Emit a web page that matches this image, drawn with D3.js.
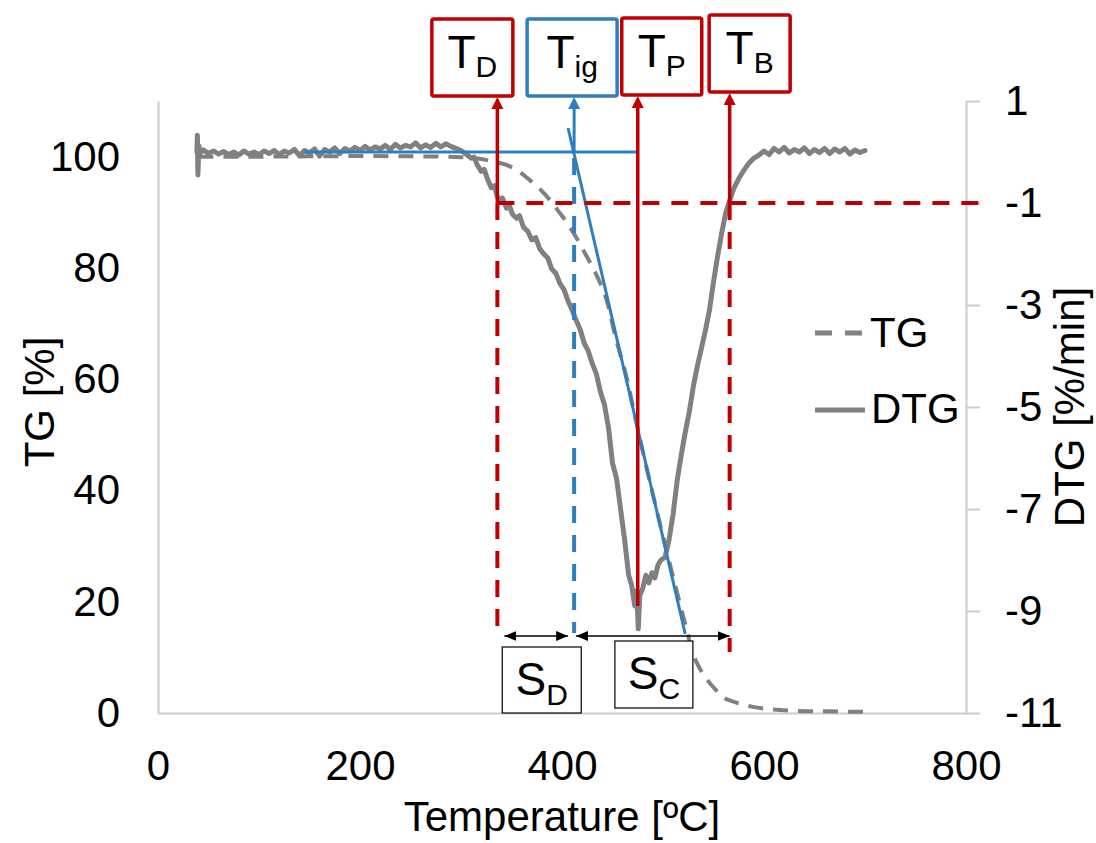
<!DOCTYPE html>
<html>
<head>
<meta charset="utf-8">
<script src="https://cdn.jsdelivr.net/npm/d3@7"></script>
<style>
body { margin: 0; background: #fff; }
svg text { font-family: "Liberation Sans", Arial, sans-serif; fill: #000; }
</style>
</head>
<body>
<div id="chart"></div>
<script>
// ---- data ----
var xTicks = [0, 200, 400, 600, 800];
var tgTicks = [0, 20, 40, 60, 80, 100];
var dtgTicks = [1, -1, -3, -5, -7, -9, -11];

// TG [%] vs temperature [C] (dashed, left axis)
var tgData = [[40,100],[100,100],[200,100.1],[280,100],[300,99.9],[315,99.7],[330,99.2],[345,98.5],
  [357,97.4],[368,95.8],[378,94.2],[388,92.2],[396,90.3],[405,88.1],[413,85.8],[421,83.2],[428,80.9],
  [435,78.4],[445,73.7],[452,68.3],[465,59.5],[475,51],[480,47],[497,34],[512,23],[522,16],[530,10.5],
  [537,7.8],[544,5.9],[552,4.2],[559,2.9],[567,2.2],[576,1.7],[589,1.1],[605,0.7],[630,0.4],[660,0.3],[700,0.2]];

// DTG [%/min] vs temperature [C] (solid, right axis)
var dtgData = [[38.5,0.0],[39,0.33],[39.5,-0.45],[40.5,0.12],[42,-0.02],[45,0.04],[50,-0.03],[55,0.02],
  [60,-0.04],[65,0.01],[70,-0.05],[75,0.0],[80,-0.06],[85,0.02],[90,-0.04],[95,0.0],[100,-0.05],[105,0.02],
  [110,-0.03],[115,0.03],[120,-0.05],[125,0.02],[130,-0.02],[135,0.05],[140,-0.07],[145,0.03],[150,-0.02],
  [155,0.06],[160,-0.08],[165,0.05],[170,0.0],[175,0.08],[180,-0.03],[185,0.07],[190,0.02],[195,0.09],
  [200,0.03],[205,0.11],[210,0.04],[215,0.1],[220,0.06],[225,0.13],[230,0.05],[235,0.15],[240,0.08],
  [245,0.13],[250,0.1],[255,0.18],[260,0.08],[265,0.14],[270,0.09],[275,0.17],[280,0.1],[285,0.16],
  [290,0.11],[295,0.07],[300,0.03],[305,-0.04],[310,-0.12],[313,-0.1],[316,-0.25],[320,-0.38],[323,-0.34],
  [326,-0.52],[330,-0.7],[333,-0.66],[336,-0.88],[339,-0.98],[341,-0.9],[345,-1.1],[348,-1.06],[351,-1.22],
  [355,-1.3],[358,-1.25],[362,-1.48],[366,-1.55],[370,-1.72],[374,-1.68],[378,-1.9],[382,-2.0],[386,-2.08],
  [390,-2.3],[394,-2.38],[398,-2.58],[402,-2.7],[406,-2.92],[410,-3.1],[414,-3.3],[418,-3.48],[422,-3.75],
  [426,-3.9],[430,-4.15],[434,-4.35],[438,-4.7],[442,-4.95],[446,-5.4],[450,-6.1],[454,-6.4],[458,-7.0],
  [462,-7.6],[466,-8.3],[469,-8.5],[472,-8.9],[474,-8.6],[475.5,-9.35],[477,-8.7],[480,-8.55],[483,-8.3],
  [486,-8.45],[489,-8.25],[492,-8.35],[495,-8.1],[498,-8.0],[502,-7.95],[506,-7.6],[510,-7.1],[514,-6.45],
  [518,-5.95],[522,-5.5],[526,-5.1],[530,-4.6],[534,-4.2],[538,-3.85],[542,-3.5],[546,-3.1],[550,-2.55],
  [554,-2.05],[558,-1.6],[562,-1.2],[566,-0.95],[570,-0.72],[575,-0.52],[580,-0.36],[585,-0.22],[590,-0.12],
  [595,-0.06],[600,0.02],[605,-0.05],[610,0.07],[615,0.0],[620,0.09],[625,-0.02],[630,0.05],[635,0.0],
  [640,0.08],[645,-0.03],[650,0.05],[655,-0.01],[660,0.07],[665,-0.03],[670,0.06],[675,0.0],[680,0.07],
  [685,-0.04],[690,0.04],[695,-0.01],[700,0.03]];

// characteristic temperatures
var markNames = ["D", "ig", "P", "B"];
var markTemps = [336, 412, 475, 566];
var thresholdDTG = -1;
var peakDTG = -8.9;
// ignition construction: baseline and tangent
var baseTemps = [145, 474];
var baseDTG = 0;
var tangentTemps = [406, 522];
var tangentDTG = [0.47, -9.45];

// ---- layout ----
var W = 1096, H = 843;
var red = "#C00000", blue = "#2E7EC1", gray = "#808080", axisGray = "#cccccc";

var svg = d3.select("#chart").append("svg")
  .attr("width", W).attr("height", H);

var x = d3.scaleLinear().domain([0, 800]).range([158, 966]);
var yL = d3.scaleLinear().domain([0, 110]).range([713, 101]);
var yR = d3.scaleLinear().domain([-11, 1]).range([713, 101]);

var defs = svg.append("defs");
defs.append("marker").attr("id", "headRed")
  .attr("viewBox", "0 0 10 10").attr("refX", 0).attr("refY", 5)
  .attr("markerUnits", "userSpaceOnUse").attr("markerWidth", 12).attr("markerHeight", 13)
  .attr("orient", "auto")
  .append("path").attr("d", "M0,0L10,5L0,10z").attr("fill", red);
defs.append("marker").attr("id", "headBlue")
  .attr("viewBox", "0 0 10 10").attr("refX", 0).attr("refY", 5)
  .attr("markerUnits", "userSpaceOnUse").attr("markerWidth", 12).attr("markerHeight", 12)
  .attr("orient", "auto")
  .append("path").attr("d", "M0,0L10,5L0,10z").attr("fill", blue);
defs.append("marker").attr("id", "headBlack")
  .attr("viewBox", "0 0 12 10").attr("refX", 12).attr("refY", 5)
  .attr("markerUnits", "userSpaceOnUse").attr("markerWidth", 12).attr("markerHeight", 10)
  .attr("orient", "auto-start-reverse")
  .append("path").attr("d", "M0,0L12,5L0,10z").attr("fill", "#000");

// ---- axes ----
var xAxis = d3.axisBottom(x).tickValues(xTicks).tickSize(0).tickPadding(37).tickSizeOuter(0);
var leftAxis = d3.axisLeft(yL).tickValues(tgTicks).tickSize(0).tickPadding(38).tickSizeOuter(0);
var rightAxis = d3.axisRight(yR).tickValues(dtgTicks).tickSize(14).tickPadding(25).tickSizeOuter(0);

function styleAxis(g) {
  g.select(".domain").attr("stroke", axisGray).attr("stroke-width", 2);
  g.selectAll(".tick line").attr("stroke", axisGray).attr("stroke-width", 2);
  g.selectAll(".tick text").attr("font-size", 42).attr("fill", "#000")
    .style("font-family", "'Liberation Sans', Arial, sans-serif");
}

svg.append("g").attr("transform", "translate(0,713)").call(xAxis).call(styleAxis);
svg.append("g").attr("transform", "translate(158,0)").call(leftAxis).call(styleAxis);
svg.append("g").attr("transform", "translate(966,0)").call(rightAxis).call(styleAxis);
// minus signs as plain hyphens like the original
svg.selectAll(".tick text").text(function(d){ return String(d); });

svg.append("text").attr("x", 562).attr("y", 831).attr("text-anchor", "middle")
  .attr("font-size", 42).text("Temperature [ºC]");
svg.append("text").attr("transform", "translate(54,402) rotate(-90)").attr("text-anchor", "middle")
  .attr("font-size", 42).text("TG [%]");
svg.append("text").attr("transform", "translate(1084,407) rotate(-90)").attr("text-anchor", "middle")
  .attr("font-size", 42).text("DTG [%/min]");

// ---- curves ----
var tgLine = d3.line().x(function(d){ return x(d[0]); }).y(function(d){ return yL(d[1]); })
  .curve(d3.curveMonotoneX);
var dtgLine = d3.line().x(function(d){ return x(d[0]); }).y(function(d){ return yR(d[1]); });

svg.append("path").datum(tgData).attr("d", tgLine)
  .attr("fill", "none").attr("stroke", gray).attr("stroke-width", 4)
  .attr("stroke-dasharray", "15,10");
svg.append("path").datum(dtgData).attr("d", dtgLine)
  .attr("fill", "none").attr("stroke", gray).attr("stroke-width", 5)
  .attr("stroke-linejoin", "round").attr("stroke-linecap", "round");

// ---- legend ----
svg.append("line").attr("x1", 815).attr("x2", 862).attr("y1", 333).attr("y2", 333)
  .attr("stroke", gray).attr("stroke-width", 5).attr("stroke-dasharray", "17,13");
svg.append("text").attr("x", 870).attr("y", 347).attr("font-size", 42).text("TG");
svg.append("line").attr("x1", 815).attr("x2", 865).attr("y1", 410).attr("y2", 410)
  .attr("stroke", gray).attr("stroke-width", 5);
svg.append("text").attr("x", 871).attr("y", 423).attr("font-size", 42).text("DTG");

// ---- annotations ----
var xD = x(markTemps[0]), xIg = x(markTemps[1]), xP = x(markTemps[2]), xB = x(markTemps[3]);
var yThr = yR(thresholdDTG);

// blue baseline + tangent
svg.append("line").attr("x1", x(baseTemps[0])).attr("x2", x(baseTemps[1]))
  .attr("y1", yR(baseDTG)).attr("y2", yR(baseDTG))
  .attr("stroke", blue).attr("stroke-width", 3);
svg.append("line").attr("x1", x(tangentTemps[0])).attr("x2", x(tangentTemps[1]))
  .attr("y1", yR(tangentDTG[0])).attr("y2", yR(tangentDTG[1]))
  .attr("stroke", blue).attr("stroke-width", 3);

// dashed guides
svg.append("line").attr("x1", xD).attr("x2", 989).attr("y1", yThr).attr("y2", yThr)
  .attr("stroke", red).attr("stroke-width", 4).attr("stroke-dasharray", "17,12");
svg.append("line").attr("x1", xD).attr("x2", xD).attr("y1", yThr).attr("y2", 638)
  .attr("stroke", red).attr("stroke-width", 4).attr("stroke-dasharray", "17,12");
svg.append("line").attr("x1", xB).attr("x2", xB).attr("y1", yThr).attr("y2", 652)
  .attr("stroke", red).attr("stroke-width", 4).attr("stroke-dasharray", "17,12");
svg.append("line").attr("x1", xIg).attr("x2", xIg).attr("y1", yR(baseDTG) + 6).attr("y2", 633)
  .attr("stroke", blue).attr("stroke-width", 4).attr("stroke-dasharray", "17,12");

// top boxes with arrows
var boxes = [
  {name: markNames[0], cx: xD - 25, w: 81, top: 19, color: red, from: yThr},
  {name: markNames[1], cx: xIg - 2, w: 90, top: 19, color: blue, from: yR(baseDTG)},
  {name: markNames[2], cx: xP + 24, w: 80, top: 18, color: red, from: yR(peakDTG)},
  {name: markNames[3], cx: xB + 20, w: 81, top: 15, color: red, from: yThr}
];
var arrowX = [xD, xIg, xP, xB];
boxes.forEach(function(b, i) {
  var bottom = b.top + 77;
  svg.append("line").attr("x1", arrowX[i]).attr("x2", arrowX[i])
    .attr("y1", b.from).attr("y2", bottom + 13)
    .attr("stroke", b.color).attr("stroke-width", b.color === red ? 3.5 : 3)
    .attr("marker-end", b.color === red ? "url(#headRed)" : "url(#headBlue)");
  svg.append("rect").attr("x", b.cx - b.w / 2).attr("y", b.top)
    .attr("width", b.w).attr("height", 77).attr("rx", 2)
    .attr("fill", "#fff").attr("stroke", b.color).attr("stroke-width", 3.5);
  var t = svg.append("text").attr("x", b.cx).attr("y", b.top + 49).attr("text-anchor", "middle");
  t.append("tspan").attr("font-size", 46).text("T");
  t.append("tspan").attr("font-size", 30).attr("dy", 9).text(b.name);
});

// S_D and S_C spans
var sY = 636;
svg.append("line").attr("x1", xD + 7).attr("x2", xIg - 6).attr("y1", sY).attr("y2", sY)
  .attr("stroke", "#000").attr("stroke-width", 1.5)
  .attr("marker-start", "url(#headBlack)").attr("marker-end", "url(#headBlack)");
svg.append("line").attr("x1", xIg + 2).attr("x2", xB).attr("y1", sY).attr("y2", sY)
  .attr("stroke", "#000").attr("stroke-width", 1.5)
  .attr("marker-start", "url(#headBlack)").attr("marker-end", "url(#headBlack)");

var sBoxes = [
  {name: "D", cx: (xD + xIg) / 2 + 6, top: 647, w: 79, h: 66},
  {name: "C", cx: (xIg + xB) / 2 + 2, top: 641, w: 78, h: 67}
];
sBoxes.forEach(function(b) {
  svg.append("rect").attr("x", b.cx - b.w / 2).attr("y", b.top)
    .attr("width", b.w).attr("height", b.h)
    .attr("fill", "#fff").attr("stroke", "#000").attr("stroke-width", 1.2);
  var t = svg.append("text").attr("x", b.cx).attr("y", b.top + 48).attr("text-anchor", "middle");
  t.append("tspan").attr("font-size", 46).text("S");
  t.append("tspan").attr("font-size", 30).attr("dy", 10).text(b.name);
});
</script>
</body>
</html>
